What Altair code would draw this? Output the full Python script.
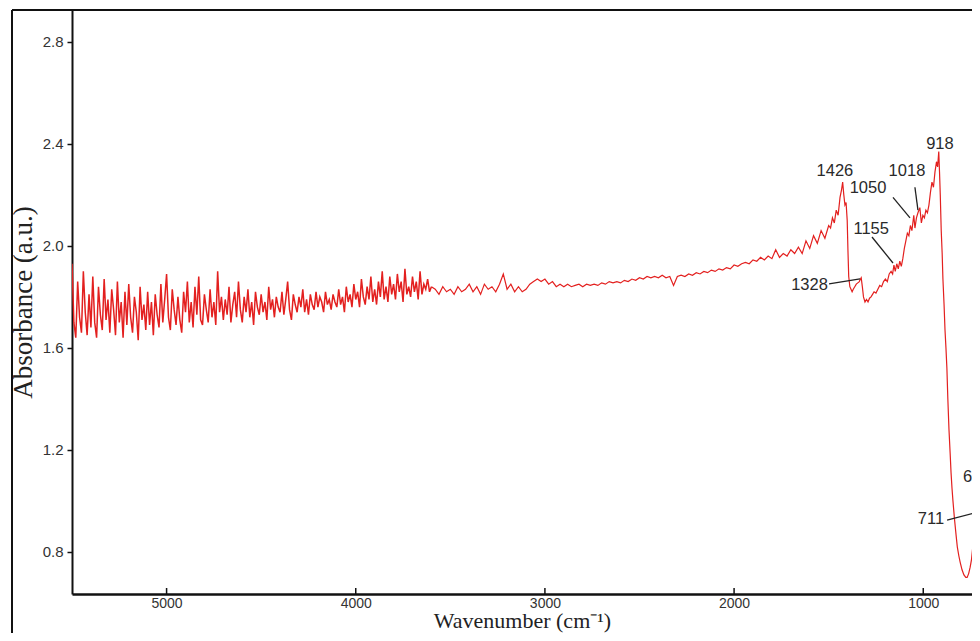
import altair as alt
import pandas as pd

# ---------------- data ----------------
# noisy region: 5500 -> 3600 cm-1, every 10 cm-1
noisy_start = 5500
noisy_step = 10
noisy_abs = [
    1.93, 1.70, 1.64, 1.86, 1.72, 1.66, 1.90, 1.74, 1.65, 1.81,
    1.68, 1.88, 1.70, 1.64, 1.84, 1.73, 1.67, 1.87, 1.71, 1.79,
    1.66, 1.83, 1.75, 1.65, 1.86, 1.70, 1.78, 1.64, 1.82, 1.69,
    1.85, 1.72, 1.66, 1.80, 1.74, 1.63, 1.84, 1.71, 1.77, 1.67,
    1.82, 1.69, 1.78, 1.65, 1.81, 1.73, 1.68, 1.85, 1.70, 1.79,
    1.89, 1.72, 1.67, 1.83, 1.75, 1.69, 1.80, 1.71, 1.66, 1.82,
    1.74, 1.86, 1.70, 1.78, 1.68, 1.84, 1.73, 1.88, 1.71, 1.69,
    1.81, 1.75, 1.70, 1.83, 1.72, 1.78, 1.69, 1.90, 1.74, 1.80,
    1.71, 1.79, 1.73, 1.84, 1.70, 1.77, 1.82, 1.72, 1.86, 1.75,
    1.70, 1.80, 1.74, 1.83, 1.72, 1.78, 1.69, 1.82, 1.76, 1.73,
    1.81, 1.74, 1.78, 1.71, 1.84, 1.75, 1.79, 1.72, 1.80, 1.76,
    1.74, 1.82, 1.73, 1.79, 1.86, 1.75, 1.71, 1.81, 1.77, 1.74,
    1.80, 1.76, 1.83, 1.74, 1.79, 1.73, 1.81, 1.77, 1.75, 1.82,
    1.76, 1.80, 1.78, 1.74, 1.82, 1.77, 1.79, 1.75, 1.81, 1.78,
    1.76, 1.83, 1.77, 1.80, 1.74, 1.84, 1.78, 1.81, 1.76, 1.85,
    1.79, 1.82, 1.76, 1.87, 1.80, 1.77, 1.84, 1.79, 1.88, 1.78,
    1.83, 1.77, 1.86, 1.80, 1.90, 1.79, 1.84, 1.78, 1.88, 1.81,
    1.85, 1.79, 1.89, 1.82, 1.86, 1.78, 1.91, 1.81, 1.84, 1.80,
    1.88, 1.82, 1.86, 1.79, 1.90, 1.81, 1.85, 1.83, 1.87, 1.82,
    1.84,
]

# middle region: 3600 -> 1500 cm-1, every 20 cm-1
mid_start = 3600
mid_step = 20
mid_abs = [
    1.84,
    1.83, 1.81, 1.84, 1.82, 1.83, 1.81, 1.84, 1.82, 1.83, 1.85,
    1.82, 1.84, 1.81, 1.85, 1.83, 1.84, 1.82, 1.85, 1.89, 1.83,
    1.85, 1.82, 1.84, 1.82, 1.83, 1.85, 1.86, 1.87, 1.86, 1.87,
    1.85, 1.86, 1.84, 1.85, 1.84, 1.85, 1.84, 1.845, 1.85, 1.84,
    1.85, 1.845, 1.85, 1.845, 1.855, 1.85, 1.86, 1.855, 1.86, 1.855,
    1.865, 1.86, 1.87, 1.865, 1.875, 1.87, 1.88, 1.875, 1.88, 1.875,
    1.885, 1.875, 1.88, 1.845, 1.88, 1.885, 1.88, 1.89, 1.885, 1.895,
    1.89, 1.90, 1.895, 1.905, 1.90, 1.91, 1.905, 1.915, 1.91, 1.925,
    1.92, 1.93, 1.935, 1.93, 1.945, 1.94, 1.955, 1.945, 1.96, 1.95,
    1.985, 1.955, 1.97, 1.96, 1.985, 1.97, 1.995, 1.97, 2.02, 1.99,
    2.04, 2.01, 2.06, 2.03, 2.08,
]

# band region: explicit wavenumbers
band_wn = [
    1490, 1480, 1470, 1460, 1450, 1440, 1432, 1426, 1420, 1414,
    1408, 1402, 1398, 1394, 1388, 1382, 1376, 1370, 1362, 1354,
    1346, 1338, 1332, 1328, 1322, 1316, 1308, 1300, 1292, 1284,
    1276, 1268, 1260, 1250, 1240, 1230, 1220, 1210, 1200, 1190,
    1180, 1170, 1162, 1155, 1148, 1140, 1132, 1124, 1116, 1108,
    1100, 1092, 1084, 1076, 1068, 1060, 1050, 1044, 1036, 1028,
    1018, 1010, 1002, 994, 986, 978, 970, 962, 954, 946,
    938, 930, 924, 918, 914, 910, 905, 900, 896, 890,
    885, 880, 875, 870, 864, 858, 853, 848, 843, 835,
    827, 820, 812, 805, 795, 785, 775, 768, 760, 752,
    745, 738, 731, 725, 718, 711, 706, 700, 690, 680,
    673, 665,
]
band_abs = [
    2.07, 2.11, 2.09, 2.14, 2.12, 2.19, 2.22, 2.25, 2.20, 2.16,
    2.17, 2.10, 1.98, 1.88, 1.84, 1.83, 1.82, 1.83, 1.84, 1.85,
    1.855, 1.86, 1.87, 1.875, 1.84, 1.80, 1.78, 1.79, 1.78, 1.795,
    1.80, 1.81, 1.82, 1.815, 1.83, 1.845, 1.84, 1.86, 1.87, 1.86,
    1.89, 1.90, 1.89, 1.925, 1.90, 1.93, 1.91, 1.94, 1.92, 1.95,
    1.99, 2.02, 2.05, 2.04, 2.08, 2.06, 2.12, 2.07, 2.11, 2.13,
    2.15, 2.09, 2.12, 2.11, 2.14, 2.13, 2.16, 2.21, 2.25, 2.23,
    2.29, 2.33, 2.31, 2.37, 2.29, 2.20, 2.06, 1.97, 1.87, 1.77,
    1.67, 1.60, 1.52, 1.40, 1.28, 1.19, 1.11, 1.05, 1.00, 0.93,
    0.87, 0.82, 0.785, 0.76, 0.73, 0.71, 0.70, 0.70, 0.715, 0.74,
    0.77, 0.82, 0.88, 0.92, 0.945, 0.955, 0.90, 0.91, 0.96, 1.02,
    1.08, 1.00,
]

# peak labels: text, anchor wavenumber, anchor absorbance, alignment
label_text = ["1426", "918", "1018", "1050", "1155", "1328", "711", "673"]
label_wn = [1467, 912, 1086, 1292, 1275, 1504, 890, 790]
label_abs = [2.294, 2.40, 2.294, 2.227, 2.067, 1.847, 0.929, 1.094]
label_align = ["center", "center", "center", "center", "center", "right", "right", "left"]

# leader lines
lead_wn1 = [1044, 1160, 1271, 1498, 874, 704]
lead_abs1 = [2.23, 2.19, 2.035, 1.851, 0.925, 1.055]
lead_wn2 = [1028, 1070, 1160, 1334, 726, 704]
lead_abs2 = [2.14, 2.11, 1.933, 1.871, 0.953, 0.953]

x_ticks = [1000, 2000, 3000, 4000, 5000]
y_ticks = [0.8, 1.2, 1.6, 2.0, 2.4, 2.8]

# ---------------- build tables ----------------
noisy = pd.DataFrame({
    "wn": [noisy_start - i * noisy_step for i in range(len(noisy_abs))],
    "abs": noisy_abs,
})
rest = pd.DataFrame({
    "wn": [mid_start - i * mid_step for i in range(len(mid_abs))] + band_wn,
    "abs": mid_abs + band_abs,
})

labels = pd.DataFrame({"t": label_text, "wn": label_wn, "abs": label_abs, "al": label_align})
leads = pd.DataFrame({"wn": lead_wn1, "abs": lead_abs1, "wn2": lead_wn2, "abs2": lead_abs2})
ticks_df = pd.DataFrame({"wn": x_ticks})

W, H = 900, 584
SANS = "Liberation Sans, Arial, sans-serif"
SERIF = "Liberation Serif, Times New Roman, serif"
RED = "#e3201f"

# 5.2863 px per cm-1 as in the reference; the right end is cut by the page
xscale = alt.Scale(domain=[742.3, 5500], reverse=True, nice=False, zero=False)
yscale = alt.Scale(domain=[0.635, 2.925], nice=False, zero=False)

xaxis = alt.Axis(values=x_ticks, format="d", ticks=False, grid=False,
                 domainWidth=2.5, domainColor="#111",
                 labelFont=SANS, labelFontSize=14, labelColor="#333",
                 labelPadding=2,
                 title="Wavenumber (cm⁻¹)", titleFont=SERIF,
                 titleFontSize=22, titleFontWeight="normal",
                 titleColor="#222", titlePadding=0)
yaxis = alt.Axis(values=y_ticks, format=".1f", grid=False,
                 tickSize=5, tickWidth=1.5, tickColor="#111",
                 domainWidth=2, domainColor="#111",
                 labelFont=SANS, labelFontSize=15, labelColor="#333",
                 labelPadding=4,
                 title="Absorbance (a.u.)", titleFont=SERIF,
                 titleFontSize=27, titleFontWeight="normal",
                 titleColor="#222", titlePadding=5)

line_noisy = alt.Chart(noisy).mark_line(color=RED, strokeWidth=1.5, clip=True).encode(
    x=alt.X("wn:Q", scale=xscale, axis=xaxis),
    y=alt.Y("abs:Q", scale=yscale, axis=yaxis),
)
line_rest = alt.Chart(rest).mark_line(color=RED, strokeWidth=1.2, clip=True).encode(
    x=alt.X("wn:Q", scale=xscale),
    y=alt.Y("abs:Q", scale=yscale),
)

inward_ticks = alt.Chart(ticks_df).mark_rule(color="#111", strokeWidth=1.5).encode(
    x=alt.X("wn:Q", scale=xscale),
    y=alt.value(H),
    y2=alt.value(H - 6),
)

def text_layer(align):
    return alt.Chart(labels).transform_filter(alt.datum.al == align).mark_text(
        font=SANS, fontSize=16.5, color="#2a2a2a", align=align, baseline="middle"
    ).encode(
        x=alt.X("wn:Q", scale=xscale),
        y=alt.Y("abs:Q", scale=yscale),
        text="t:N",
    )

lead_lines = alt.Chart(leads).mark_rule(color="#222", strokeWidth=1.3).encode(
    x=alt.X("wn:Q", scale=xscale),
    x2="wn2:Q",
    y=alt.Y("abs:Q", scale=yscale),
    y2="abs2:Q",
)

frame_top = alt.Chart(ticks_df).mark_rule(color="#111", strokeWidth=2).encode(
    x=alt.value(-60), x2=alt.value(W + 10), y=alt.value(0)
)
frame_left = alt.Chart(ticks_df).mark_rule(color="#111", strokeWidth=2).encode(
    x=alt.value(-60), y=alt.value(0), y2=alt.value(H + 60)
)

chart = alt.layer(
    line_noisy, line_rest, inward_ticks, lead_lines,
    text_layer("center"), text_layer("right"), text_layer("left"),
    frame_top, frame_left,
).properties(
    width=W, height=H,
    autosize=alt.AutoSizeParams(type="none"),
    padding={"left": 64, "top": 2, "right": 0, "bottom": 39},
    background="white",
).configure_view(stroke="transparent")

chart.save("out.html", embed_options={"renderer": "svg", "actions": False})
